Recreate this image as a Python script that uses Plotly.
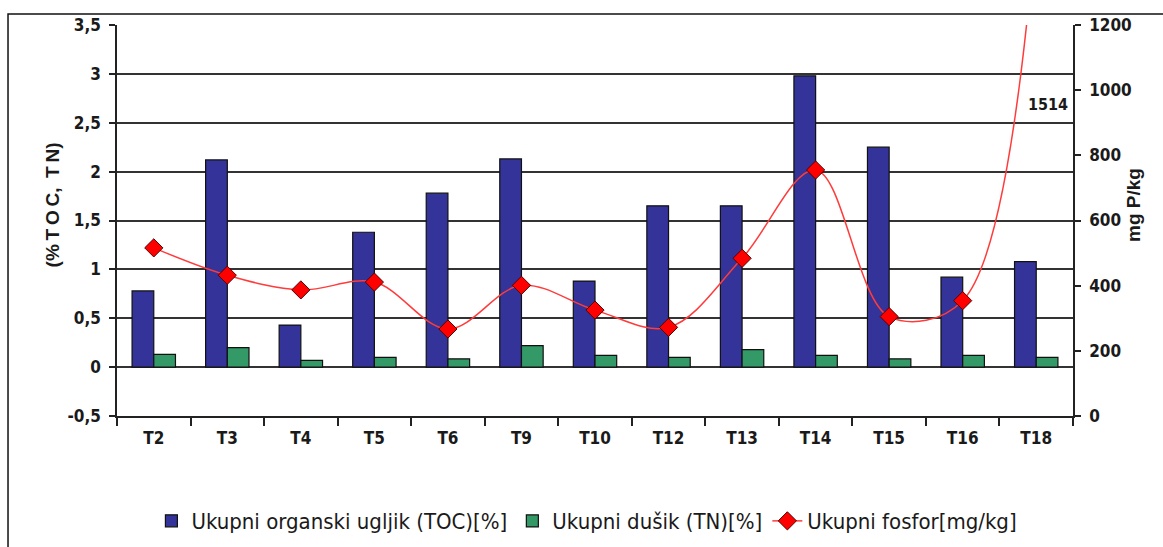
import plotly.graph_objects as go

# Sampling sites
sites = ["T2", "T3", "T4", "T5", "T6", "T9", "T10", "T12", "T13", "T14", "T15", "T16", "T18"]

# Total organic carbon, % (left axis)
toc = [0.78, 2.12, 0.43, 1.38, 1.78, 2.13, 0.88, 1.65, 1.65, 2.98, 2.25, 0.92, 1.08]

# Total nitrogen, % (left axis)
tn = [0.13, 0.20, 0.07, 0.10, 0.085, 0.22, 0.12, 0.10, 0.18, 0.12, 0.085, 0.12, 0.10]

# Total phosphorus, mg P/kg (right axis)
tp = [516, 432, 387, 411, 267, 401, 325, 272, 484, 755, 305, 354, 1514]

# Left axis ticks (comma decimals, plain hyphen for the negative value)
left_ticks = [-0.5, 0, 0.5, 1, 1.5, 2, 2.5, 3, 3.5]
left_tick_text = ["-0,5", "0", "0,5", "1", "1,5", "2", "2,5", "3", "3,5"]

FONT = "Liberation Sans, Arial, sans-serif"
NARROW = "DejaVu Sans Condensed, Arial Narrow, sans-serif"
INK = "#1a1a1a"

fig = go.Figure()

fig.add_trace(go.Bar(
    x=sites, y=toc, name="Ukupni organski ugljik (TOC)[%]",
    marker=dict(color="#333399", line=dict(color="#111111", width=1.2)),
))
fig.add_trace(go.Bar(
    x=sites, y=tn, name="Ukupni dušik (TN)[%]",
    marker=dict(color="#339966", line=dict(color="#111111", width=1.2)),
))
fig.add_trace(go.Scatter(
    x=sites, y=tp, name="Ukupni fosfor[mg/kg]", yaxis="y2",
    mode="lines+markers",
    line=dict(color="#ff3b3b", width=1.5, shape="spline", smoothing=1),
    marker=dict(symbol="diamond", size=14, color="#ff0000",
                line=dict(color="#550000", width=1)),
))

# value label for the off-scale phosphorus point
fig.add_annotation(
    xref="paper", yref="y2", x=0.997, y=955, xanchor="right", yanchor="middle",
    text=f"<b>{tp[-1]}</b>", showarrow=False,
    font=dict(family=NARROW, size=16, color=INK),
)

# axis titles
fig.add_annotation(
    xref="paper", yref="paper", x=-0.0805, y=0.54, textangle=-90,
    text="<b>(%\u2009T\u2009O\u2009C,\u2002T\u2009N)</b>", showarrow=False,
    font=dict(family=FONT, size=19, color=INK),
)
fig.add_annotation(
    xref="paper", yref="paper", x=1.077, y=0.54, textangle=-90,
    text="<b>mg P/kg</b>", showarrow=False,
    font=dict(family=FONT, size=19, color=INK),
)

# outer frame around the chart
fig.add_shape(
    type="rect", xref="paper", yref="paper",
    x0=-0.114, x1=1.1, y0=-0.4, y1=1.028,
    line=dict(color="#111111", width=1.5), fillcolor="rgba(0,0,0,0)",
    layer="below",
)

tick_font = dict(family=NARROW, size=17, color=INK, weight="bold")

fig.update_layout(
    width=1163, height=547,
    margin=dict(l=117, r=90, t=25, b=131, autoexpand=False),
    paper_bgcolor="white", plot_bgcolor="white",
    separators=",.",
    barmode="group", bargap=0.41, bargroupgap=0,
    font=dict(family=FONT, color=INK),
    showlegend=True,
    legend=dict(
        orientation="h", x=0.036, y=-0.215, xanchor="left", yanchor="top",
        font=dict(family=NARROW, size=22, color=INK),
        itemwidth=30, bgcolor="rgba(0,0,0,0)",
    ),
    xaxis=dict(
        range=[-0.5, len(sites) - 0.5],
        showline=True, linecolor="#222222", linewidth=1.5,
        ticks="outside", tickson="boundaries", ticklen=8, tickcolor="#222222",
        tickwidth=1.5, ticklabelstandoff=6,
        tickfont=tick_font,
        showgrid=False,
    ),
    yaxis=dict(
        range=[-0.5, 3.5], tickvals=left_ticks, ticktext=left_tick_text,
        showline=True, linecolor="#222222", linewidth=1.5,
        ticks="outside", ticklen=6, tickcolor="#222222", tickwidth=1.5,
        ticklabelstandoff=5,
        showgrid=True, gridcolor="#333333", gridwidth=1.5,
        zeroline=False,
        tickfont=tick_font,
    ),
    yaxis2=dict(
        range=[0, 1200], dtick=200, overlaying="y", side="right",
        showline=True, linecolor="#222222", linewidth=1.5,
        ticks="outside", ticklen=6, tickcolor="#222222", tickwidth=1.5,
        ticklabelstandoff=5,
        showgrid=False, zeroline=False,
        tickfont=tick_font,
    ),
)

fig.write_html("out.html")
